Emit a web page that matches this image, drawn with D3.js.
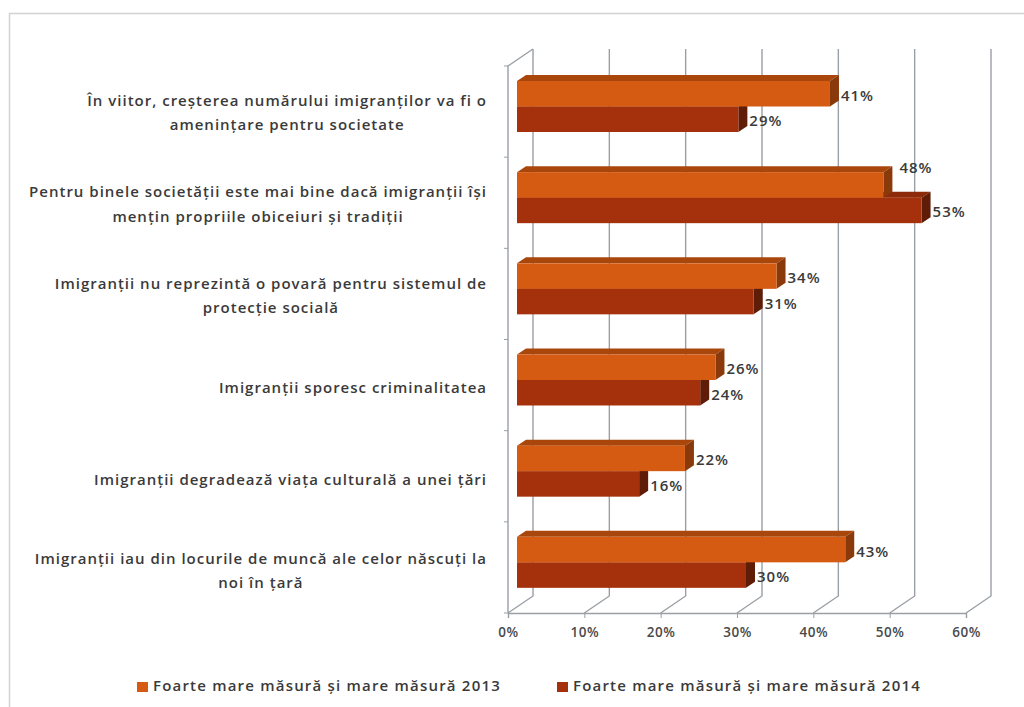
<!DOCTYPE html>
<html lang="ro">
<head>
<meta charset="utf-8">
<script src="https://cdn.jsdelivr.net/npm/d3@7"></script>
<style>
  html, body { margin: 0; background: #fff; }
  svg { display: block; }
  text { font-family: "Open Sans", "Noto Sans", sans-serif; fill: #3a3a3a; }
</style>
</head>
<body>
<svg id="chart" width="1024" height="707"></svg>
<script>
// Agreement with statements about immigrants, 2013 and 2014 (percent)
const categories = [
  ["În viitor, creșterea numărului imigranților va fi o", "amenințare pentru societate"],
  ["Pentru binele societății este mai bine dacă imigranții își", "mențin propriile obiceiuri și tradiții"],
  ["Imigranții nu reprezintă o povară pentru sistemul de", "protecție socială"],
  ["Imigranții sporesc criminalitatea"],
  ["Imigranții degradează viața culturală a unei țări"],
  ["Imigranții iau din locurile de muncă ale celor născuți la", "noi în țară"]
];
const values2013 = [41, 48, 34, 26, 22, 43];
const values2014 = [29, 53, 31, 24, 16, 30];
const seriesNames = ["Foarte mare măsură și mare măsură 2013", "Foarte mare măsură și mare măsură 2014"];
const axisTicks = [0, 10, 20, 30, 40, 50, 60];

const palette = [
  { front: "#d55a12", top: "#a9460c", side: "#8a3a0a" },
  { front: "#a5300c", top: "#8c2a0a", side: "#5f1c06" }
];

const svg = d3.select("#chart");

// Plot box: front plane of the 3D walls, with a constant depth offset
const plot = { left: 508, top: 66, bottom: 613 };
const depth = { x: 25, y: -17 };
const barDepth = { x: 9, y: -6 };
const barInset = 9;

const x = d3.scaleLinear().domain([0, 60]).range([plot.left, 966]);
const band = d3.scaleBand().domain(d3.range(categories.length)).range([plot.top, plot.bottom]);
const labelBand = d3.scaleBand().domain(d3.range(categories.length)).range([67, 617]);
const wallColor = "#9a9fa5";

// Frame: only the top and left edges show, running off the page
svg.append("path")
  .attr("d", "M9.5,707V13.5H1024")
  .attr("fill", "none").attr("stroke", "#d2d2d2").attr("stroke-width", 1.5);

// Gridlines on the back wall with their floor returns
const grid = svg.append("g").attr("fill", "none").attr("stroke", wallColor).attr("stroke-width", 1.4);
grid.selectAll("path").data(axisTicks).join("path")
  .attr("d", d => {
    const bx = x(d) + depth.x;
    return `M${bx},${plot.top + depth.y}V${plot.bottom + depth.y}L${x(d)},${plot.bottom}`;
  });

// Left wall edge and floor front edge
grid.append("path")
  .attr("d", `M${plot.left},${plot.bottom}V${plot.top}L${plot.left + depth.x},${plot.top + depth.y}`);

const axisGroup = svg.append("g").attr("transform", `translate(0,${plot.bottom})`);
axisGroup.call(d3.axisBottom(x).tickValues(axisTicks).tickFormat(d => d + "%").tickSize(5).tickPadding(9));
axisGroup.select(".domain").attr("stroke", wallColor).attr("stroke-width", 1.4);
axisGroup.selectAll(".tick line").attr("stroke", wallColor);
axisGroup.selectAll(".tick text")
  .attr("font-size", 13.5).attr("font-weight", 600).attr("letter-spacing", 0.5).style("fill", "#4a4a4a");

// Category tick marks on the wall
svg.append("g").selectAll("line").data(d3.range(categories.length + 1)).join("line")
  .attr("x1", plot.left - 4).attr("x2", plot.left)
  .attr("y1", i => i < categories.length ? band(i) : plot.bottom)
  .attr("y2", i => i < categories.length ? band(i) : plot.bottom)
  .attr("stroke", wallColor);

// Category labels: each block is centred on its longest line, which ends at the wall
const labelRight = 487;
svg.append("g").selectAll("text").data(categories).join("text")
  .attr("text-anchor", "middle")
  .attr("font-size", 15)
  .attr("font-weight", 600)
  .attr("letter-spacing", 1)
  .each(function (lines, i) {
    const node = d3.select(this);
    const mid = labelBand(i) + labelBand.bandwidth() / 2 + 5;
    const spans = node.selectAll("tspan").data(lines).join("tspan")
      .attr("y", (l, k) => mid + (k - (lines.length - 1) / 2) * 24.5)
      .text(l => l);
    const widest = d3.max(spans.nodes(), n => n.getComputedTextLength());
    spans.attr("x", labelRight - widest / 2);
  });

// A bar with its top and side faces
const barHeight = 25.5;
const barStart = x(0) + barInset;
const barEnd = v => barStart + (x(v) - x(0));

function drawBar(g, value, y, colors) {
  const e = barEnd(value);
  g.append("path").attr("fill", colors.top)
    .attr("d", `M${barStart},${y}L${barStart + barDepth.x},${y + barDepth.y}H${e + barDepth.x}L${e},${y}Z`);
  g.append("path").attr("fill", colors.side)
    .attr("d", `M${e},${y}L${e + barDepth.x},${y + barDepth.y}V${y + barHeight + barDepth.y}L${e},${y + barHeight}Z`);
  g.append("rect").attr("fill", colors.front)
    .attr("x", barStart).attr("y", y).attr("width", e - barStart).attr("height", barHeight);
}

const firstFrontY = i => band(i) + 15;
const bars = svg.append("g");
categories.forEach((_, i) => {
  // The lower series is drawn first so the upper bar's front sits over its top face
  drawBar(bars, values2014[i], firstFrontY(i) + barHeight, palette[1]);
  drawBar(bars, values2013[i], firstFrontY(i), palette[0]);
});

// Value labels at the bar ends; a shorter bar's label is lifted clear of a longer neighbour
const valueLabels = svg.append("g").attr("font-size", 15).attr("font-weight", 600).attr("letter-spacing", 1);
categories.forEach((_, i) => {
  const lift = values2014[i] > values2013[i] ? 19 : 0;
  valueLabels.append("text")
    .attr("x", barEnd(values2013[i]) + barDepth.x + 2 + (lift ? 5 : 0))
    .attr("y", firstFrontY(i) + barHeight / 2 + 7 - lift)
    .text(values2013[i] + "%");
  valueLabels.append("text")
    .attr("x", barEnd(values2014[i]) + barDepth.x + 2)
    .attr("y", firstFrontY(i) + barHeight * 1.5 + 7)
    .text(values2014[i] + "%");
});

// Legend below the axis
const legendX = [137, 557];
const legend = svg.append("g").selectAll("g").data(seriesNames).join("g")
  .attr("transform", (d, i) => `translate(${legendX[i]},687)`);
legend.append("rect").attr("y", -5).attr("width", 11).attr("height", 10)
  .attr("fill", (d, i) => palette[i].front);
legend.append("text").attr("x", 16).attr("y", 4).attr("font-size", 15).attr("font-weight", 600)
  .attr("letter-spacing", 1.2).text(d => d);
</script>
</body>
</html>
